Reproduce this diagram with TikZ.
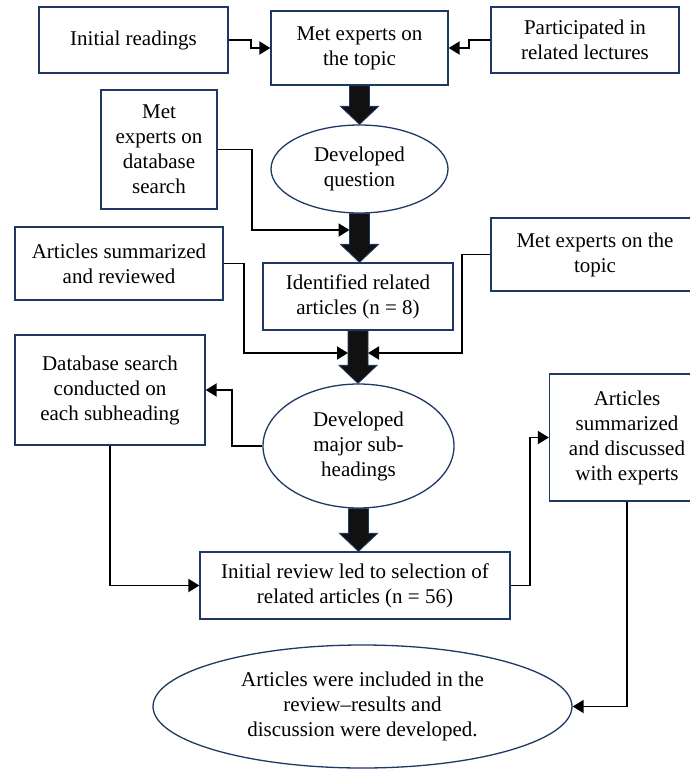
\documentclass[tikz,border=0pt]{standalone}
\usepackage{fontspec}
\setmainfont{Liberation Serif}
\usetikzlibrary{shapes.geometric,arrows.meta,calc}
\definecolor{navy}{HTML}{1F3864}
\definecolor{ink}{HTML}{111111}
\newcommand\blockarr[2]{%
  \filldraw[blockarrow] let \p1=(#1.south), \p2=(#2.north) in
    (\x1-10,\y1) -- (\x1-10,\y2+18) -- (\x1-19,\y2+18) -- (\x1,\y2) --
    (\x1+19,\y2+18) -- (\x1+10,\y2+18) -- (\x1+10,\y1) -- cycle;}
\begin{document}
\begin{tikzpicture}[x=1pt,y=1pt,
  every node/.style={font=\fontsize{21}{25}\selectfont, align=center, inner sep=0pt},
  box/.style={draw=navy, line width=1.3pt, rectangle},
  oval/.style={draw=navy, line width=1.3pt, ellipse},
  conn/.style={draw=black, line width=1.9pt, -{Triangle[length=11pt,width=13pt]}},
  blockarrow/.style={fill=ink, draw=navy, line width=0.8pt, line join=miter}]
\fill[white] (0,0) rectangle (690,-769);
\clip (0,0) rectangle (690,-769);
\useasboundingbox (0,0) rectangle (690,-769);

\node[box, minimum width=189, minimum height=66] (b1) at (133.5,-40) {Initial readings};
\node[box, minimum width=177, minimum height=74] (b2) at (359.5,-48) {Met experts on\\the topic};
\node[box, minimum width=188, minimum height=66] (b3) at (585,-40) {Participated in\\related lectures};
\node[box, minimum width=116, minimum height=119] (b4) at (159,-149.5) {Met\\experts on\\database\\search};
\node[oval, minimum width=177, minimum height=88] (e1) at (359.5,-169) {Developed\\question};
\node[box, minimum width=208, minimum height=73] (b5) at (119,-263.5) {Articles summarized\\and reviewed};
\node[box, minimum width=208, minimum height=73] (b7) at (595,-254.5) {Met experts on the\\topic};
\node[box, minimum width=190, minimum height=67] (bid) at (358,-296.5) {Identified related\\articles (n = 8)};
\node[oval, minimum width=191, minimum height=124] (e2) at (358.5,-446) {Developed\\major sub-\\headings};
\node[box, minimum width=190, minimum height=110] (b6) at (110,-390) {Database search\\conducted on\\each subheading};
\node[box, minimum width=155, minimum height=127] (b8) at (627,-437.5) {Articles\\summarized\\and discussed\\with experts};
\node[box, minimum width=310, minimum height=67] (b9) at (355,-585.5) {Initial review led to selection of\\related articles (n = 56)};
\node[oval, minimum width=419, minimum height=123] (e3) at (362.5,-706.5) {Articles were included in the\\review–results and\\discussion were developed.};

\blockarr{b2}{e1}
\blockarr{e1}{bid}
\blockarr{bid}{e2}
\blockarr{e2}{b9}

\coordinate (j1) at (349.5,-230);
\coordinate (j2l) at (348,-353);
\coordinate (j2r) at (368,-353);

\draw[conn] (b1.east) -- ++(22,0) |- (b2.west);
\draw[conn] (b3.west) -- ++(-21,0) |- (b2.east);
\draw[conn] (b4.east) -- ++(34,0) |- (j1);
\draw[conn] (b5.east) -- ++(20,0) |- (j2l);
\draw[conn] (b7.west) -- ++(-28,0) |- (j2r);
\draw[conn] (e2.west) -- ++(-30,0) |- (b6.east);
\draw[conn] (b6.south) |- (b9.west);
\draw[conn] (b9.east) -- ++(19,0) |- (b8.west);
\draw[conn] (b8.south) |- (e3.east);
\end{tikzpicture}
\end{document}
